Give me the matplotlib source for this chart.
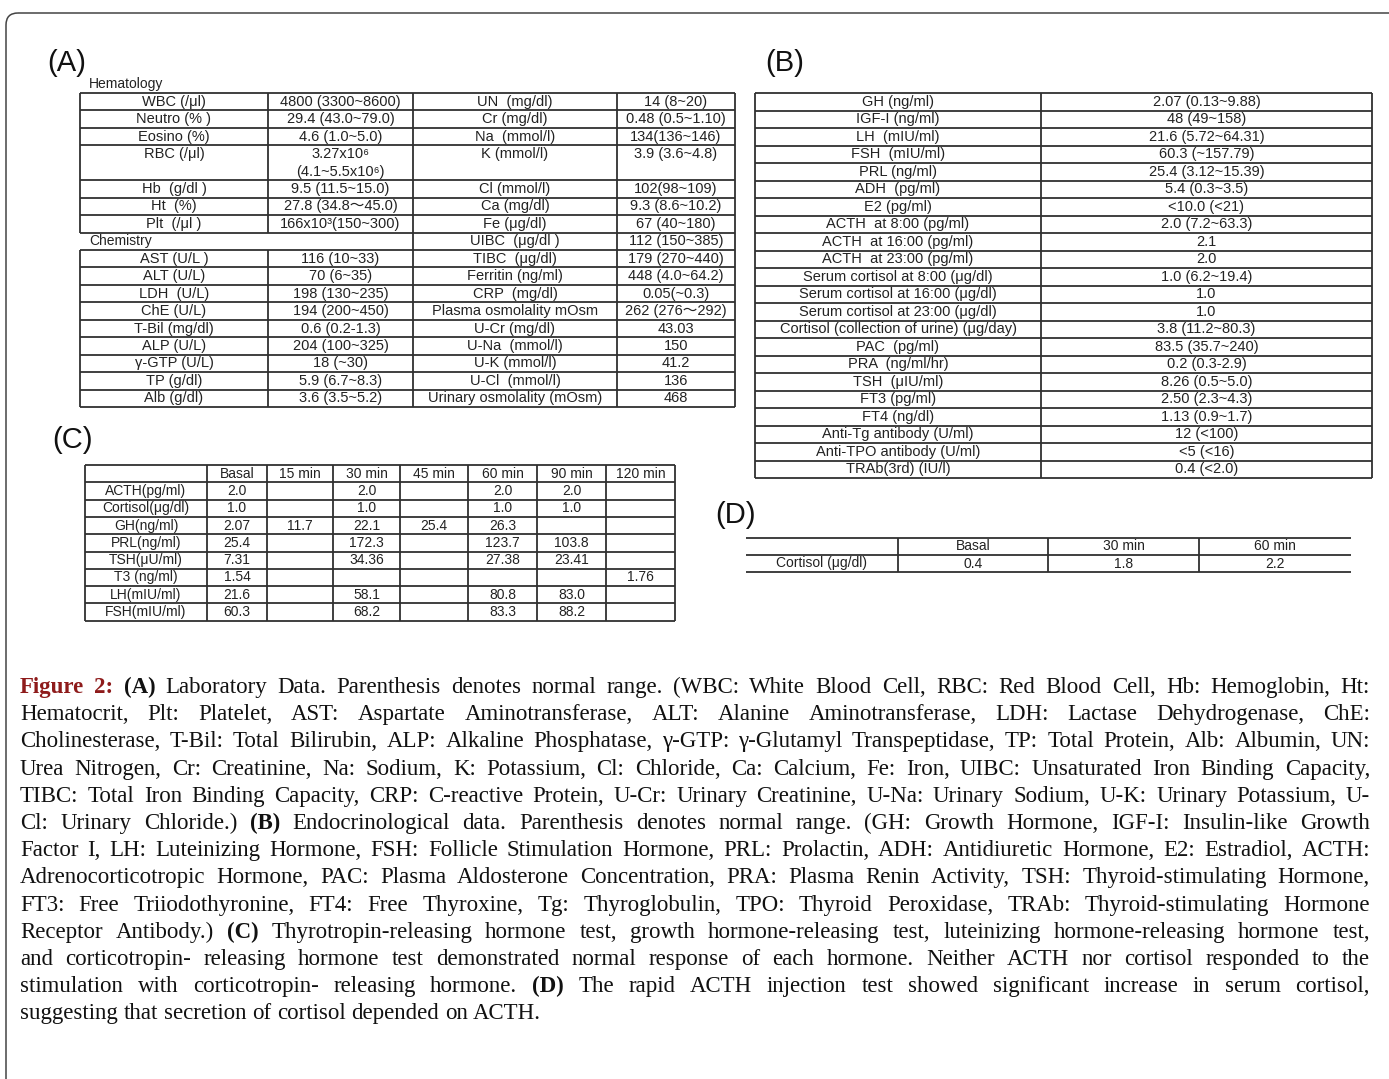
"""
Figure 2 laboratory tables (A-D) with caption
"""

import matplotlib
matplotlib.use('Agg')
import matplotlib.pyplot as plt
from matplotlib.patches import FancyBboxPatch

# (A) laboratory data
hema_labels = ['WBC (/μl)', 'Neutro (% )', 'Eosino (%)', 'RBC (/μl)', 'Hb  (g/dl )', 'Ht  (%)', 'Plt  (/μl )']
hema_values = ['4800 (3300~8600)', '29.4 (43.0~79.0)', '4.6 (1.0~5.0)', '3.27x10⁶\n(4.1~5.5x10⁶)',
               '9.5 (11.5~15.0)', '27.8 (34.8～45.0)', '166x10³(150~300)']
hema_units = [1, 1, 1, 2, 1, 1, 1]

chem_labels = ['AST (U/L )', 'ALT (U/L)', 'LDH  (U/L)', 'ChE (U/L)', 'T-Bil (mg/dl)', 'ALP (U/L)',
               'γ-GTP (U/L)', 'TP (g/dl)', 'Alb (g/dl)']
chem_values = ['116 (10~33)', '70 (6~35)', '198 (130~235)', '194 (200~450)', '0.6 (0.2-1.3)',
               '204 (100~325)', '18 (~30)', '5.9 (6.7~8.3)', '3.6 (3.5~5.2)']

misc_labels = ['UN  (mg/dl)', 'Cr (mg/dl)', 'Na  (mmol/l)', 'K (mmol/l)', 'Cl (mmol/l)', 'Ca (mg/dl)',
               'Fe (μg/dl)', 'UIBC  (μg/dl )', 'TIBC  (μg/dl)', 'Ferritin (ng/ml)', 'CRP  (mg/dl)',
               'Plasma osmolality mOsm', 'U-Cr (mg/dl)', 'U-Na  (mmol/l)', 'U-K (mmol/l)',
               'U-Cl  (mmol/l)', 'Urinary osmolality (mOsm)']
misc_values = ['14 (8~20)', '0.48 (0.5~1.10)', '134(136~146)', '3.9 (3.6~4.8)', '102(98~109)',
               '9.3 (8.6~10.2)', '67 (40~180)', '112 (150~385)', '179 (270~440)', '448 (4.0~64.2)',
               '0.05(~0.3)', '262 (276～292)', '43.03', '150', '41.2', '136', '468']
misc_units = [1, 1, 1, 2] + [1] * 13

# (B) endocrinological data
endo_labels = ['GH (ng/ml)', 'IGF-I (ng/ml)', 'LH  (mIU/ml)', 'FSH  (mIU/ml)', 'PRL (ng/ml)',
               'ADH  (pg/ml)', 'E2 (pg/ml)', 'ACTH  at 8:00 (pg/ml)', 'ACTH  at 16:00 (pg/ml)',
               'ACTH  at 23:00 (pg/ml)', 'Serum cortisol at 8:00 (μg/dl)', 'Serum cortisol at 16:00 (μg/dl)',
               'Serum cortisol at 23:00 (μg/dl)', 'Cortisol (collection of urine) (μg/day)',
               'PAC  (pg/ml)', 'PRA  (ng/ml/hr)', 'TSH  (μIU/ml)', 'FT3 (pg/ml)', 'FT4 (ng/dl)',
               'Anti-Tg antibody (U/ml)', 'Anti-TPO antibody (U/ml)', 'TRAb(3rd) (IU/l)']
endo_values = ['2.07 (0.13~9.88)', '48 (49~158)', '21.6 (5.72~64.31)', '60.3 (~157.79)',
               '25.4 (3.12~15.39)', '5.4 (0.3~3.5)', '<10.0 (<21)', '2.0 (7.2~63.3)', '2.1', '2.0',
               '1.0 (6.2~19.4)', '1.0', '1.0', '3.8 (11.2~80.3)', '83.5 (35.7~240)', '0.2 (0.3-2.9)',
               '8.26 (0.5~5.0)', '2.50 (2.3~4.3)', '1.13 (0.9~1.7)', '12 (<100)', '<5 (<16)', '0.4 (<2.0)']

# (C) stimulation tests
stim_times = ['Basal', '15 min', '30 min', '45 min', '60 min', '90 min', '120 min']
stim_items = ['ACTH(pg/ml)', 'Cortisol(μg/dl)', 'GH(ng/ml)', 'PRL(ng/ml)', 'TSH(μU/ml)',
              'T3 (ng/ml)', 'LH(mIU/ml)', 'FSH(mIU/ml)']
acth_vals = ['2.0', '', '2.0', '', '2.0', '2.0', '']
cortisol_vals = ['1.0', '', '1.0', '', '1.0', '1.0', '']
gh_vals = ['2.07', '11.7', '22.1', '25.4', '26.3', '', '']
prl_vals = ['25.4', '', '172.3', '', '123.7', '103.8', '']
tsh_vals = ['7.31', '', '34.36', '', '27.38', '23.41', '']
t3_vals = ['1.54', '', '', '', '', '', '1.76']
lh_vals = ['21.6', '', '58.1', '', '80.8', '83.0', '']
fsh_vals = ['60.3', '', '68.2', '', '83.3', '88.2', '']

# (D) rapid ACTH test
rapid_times = ['Basal', '30 min', '60 min']
rapid_cortisol = ['0.4', '1.8', '2.2']

# caption: ^word = red bold, *word* = bold
caption_lines = [
    '^Figure ^2: *(A)* Laboratory Data. Parenthesis denotes normal range. (WBC: White Blood Cell, RBC: Red Blood Cell, Hb: Hemoglobin, Ht:',
    'Hematocrit, Plt: Platelet, AST: Aspartate Aminotransferase, ALT: Alanine Aminotransferase, LDH: Lactase Dehydrogenase, ChE:',
    'Cholinesterase, T-Bil: Total Bilirubin, ALP: Alkaline Phosphatase, γ-GTP: γ-Glutamyl Transpeptidase, TP: Total Protein, Alb: Albumin, UN:',
    'Urea Nitrogen, Cr: Creatinine, Na: Sodium, K: Potassium, Cl: Chloride, Ca: Calcium, Fe: Iron, UIBC: Unsaturated Iron Binding Capacity,',
    'TIBC: Total Iron Binding Capacity, CRP: C-reactive Protein, U-Cr: Urinary Creatinine, U-Na: Urinary Sodium, U-K: Urinary Potassium, U-',
    'Cl: Urinary Chloride.) *(B)* Endocrinological data. Parenthesis denotes normal range. (GH: Growth Hormone, IGF-I: Insulin-like Growth',
    'Factor I, LH: Luteinizing Hormone, FSH: Follicle Stimulation Hormone, PRL: Prolactin, ADH: Antidiuretic Hormone, E2: Estradiol, ACTH:',
    'Adrenocorticotropic Hormone, PAC: Plasma Aldosterone Concentration, PRA: Plasma Renin Activity, TSH: Thyroid-stimulating Hormone,',
    'FT3: Free Triiodothyronine, FT4: Free Thyroxine, Tg: Thyroglobulin, TPO: Thyroid Peroxidase, TRAb: Thyroid-stimulating Hormone',
    'Receptor Antibody.) *(C)* Thyrotropin-releasing hormone test, growth hormone-releasing test, luteinizing hormone-releasing hormone test,',
    'and corticotropin- releasing hormone test demonstrated normal response of each hormone. Neither ACTH nor cortisol responded to the',
    'stimulation with corticotropin- releasing hormone. *(D)* The rapid ACTH injection test showed significant increase in serum cortisol,',
    'suggesting that secretion of cortisol depended on ACTH.',
]

SANS = ['Liberation Sans', 'Noto Sans CJK JP', 'DejaVu Sans']
SERIF = ['Liberation Serif', 'DejaVu Serif']
LINE = '#303030'
TXT = '#222222'
LW = 1.3

fig = plt.figure(figsize=(13.89, 10.79), dpi=100)
ax = fig.add_axes([0, 0, 1, 1])
ax.set_xlim(0, 1389)
ax.set_ylim(1079, 0)
ax.axis('off')


def hline(x0, x1, y):
    ax.plot([x0, x1], [y, y], color=LINE, lw=LW, solid_capstyle='butt')


def vline(x, y0, y1):
    ax.plot([x, x], [y0, y1], color=LINE, lw=LW, solid_capstyle='butt')


def cell(x0, x1, y, s, fs=10.5):
    ax.text((x0 + x1) / 2, y, s, ha='center', va='center', fontsize=fs, family=SANS, color=TXT)


def stacked_column(x0, x1, y0, rh, labels, values, units, xmid, fs=10.5):
    """Two-column block where some rows span two units; text sits at the top."""
    y = y0
    hline(x0, x1, y)
    for lab, val, u in zip(labels, values, units):
        cell(x0, xmid, y + rh / 2, lab, fs)
        for k, part in enumerate(val.split('\n')):
            cell(xmid, x1, y + rh / 2 + k * rh, part, fs)
        y += u * rh
        hline(x0, x1, y)
    return y


# outer frame
ax.add_patch(FancyBboxPatch((6, 13), 1420, 1100, boxstyle='round,pad=0,rounding_size=12',
                            fill=False, ec='#444444', lw=1.1))

# ---- (A)
ax.text(47, 63, '(A)', fontsize=21, family=SANS, va='center', ha='left', color='#111111')
ax.text(89, 84, 'Hematology', fontsize=10, family=SANS, va='center', ha='left', color=TXT)
ax.text(89, 241, 'Chemistry', fontsize=10, family=SANS, va='center', ha='left', color=TXT)
ax_x = [80, 268, 413, 617, 735]
a_top, a_rh = 93, 17.45
y_hema = stacked_column(ax_x[0], ax_x[2], a_top, a_rh, hema_labels, hema_values, hema_units, ax_x[1])
vline(ax_x[0], a_top, y_hema)
vline(ax_x[1], a_top, y_hema)
y_chem0 = y_hema + a_rh
y_end = stacked_column(ax_x[0], ax_x[2], y_chem0, a_rh, chem_labels, chem_values,
                       [1] * len(chem_labels), ax_x[1])
vline(ax_x[0], y_chem0, y_end)
vline(ax_x[1], y_chem0, y_end)
stacked_column(ax_x[2], ax_x[4], a_top, a_rh, misc_labels, misc_values, misc_units, ax_x[3])
for x in ax_x[2:]:
    vline(x, a_top, y_end)

# ---- (B)
ax.text(765, 63, '(B)', fontsize=21, family=SANS, va='center', ha='left', color='#111111')
bx = [755, 1041, 1372]
b_top, b_rh = 93, 17.5
b_end = stacked_column(bx[0], bx[2], b_top, b_rh, endo_labels, endo_values,
                       [1] * len(endo_labels), bx[1])
for x in bx:
    vline(x, b_top, b_end)

# ---- (C)
ax.text(52, 440, '(C)', fontsize=21, family=SANS, va='center', ha='left', color='#111111')
cx = [85, 207, 267, 333, 400, 468, 537, 606, 675]
c_top, c_rh = 465, 17.3
stim_rows = [acth_vals, cortisol_vals, gh_vals, prl_vals, tsh_vals, t3_vals, lh_vals, fsh_vals]
hline(cx[0], cx[-1], c_top)
for j, t in enumerate(stim_times):
    cell(cx[j + 1], cx[j + 2], c_top + c_rh / 2, t, 10)
for i, (item, vals) in enumerate(zip(stim_items, stim_rows)):
    yc = c_top + (i + 1.5) * c_rh
    cell(cx[0], cx[1], yc, item, 10)
    for j, v in enumerate(vals):
        cell(cx[j + 1], cx[j + 2], yc, v, 10)
for i in range(len(stim_items) + 1):
    hline(cx[0], cx[-1], c_top + (i + 1) * c_rh)
c_end = c_top + (len(stim_items) + 1) * c_rh
for x in cx:
    vline(x, c_top, c_end)

# ---- (D)
ax.text(715, 515, '(D)', fontsize=21, family=SANS, va='center', ha='left', color='#111111')
dx = [746, 898, 1048, 1199, 1351]
d_top, d_rh = 538, 17
for k in range(3):
    hline(dx[0], dx[-1], d_top + k * d_rh)
for x in dx[1:-1]:
    vline(x, d_top, d_top + 2 * d_rh)
for j, t in enumerate(rapid_times):
    cell(dx[j + 1], dx[j + 2], d_top + d_rh / 2, t, 10)
cell(dx[0], dx[1], d_top + 1.5 * d_rh, 'Cortisol (μg/dl)', 10)
for j, v in enumerate(rapid_cortisol):
    cell(dx[j + 1], dx[j + 2], d_top + 1.5 * d_rh, v, 10)

# ---- caption, justified word by word
renderer = fig.canvas.get_renderer()
cap_left, cap_right = 20, 1370
cap_y0, cap_dy = 693, 27.2   # baselines
cap_fs = 16.5
for n, line in enumerate(caption_lines):
    y = cap_y0 + n * cap_dy
    words = []
    for w in line.split(' '):
        if w.startswith('^'):
            words.append((w[1:], 'bold', '#8e1b1b'))
        elif w.startswith('*') and w.endswith('*'):
            words.append((w[1:-1], 'bold', '#111111'))
        else:
            words.append((w, 'normal', '#111111'))
    texts = [ax.text(0, y, w, fontsize=cap_fs, family=SERIF, weight=wt, color=c,
                     ha='left', va='baseline') for w, wt, c in words]
    widths = [t.get_window_extent(renderer).width for t in texts]
    last = n == len(caption_lines) - 1
    if last:
        gap = 0.25 * cap_fs * 100 / 72
    else:
        gap = (cap_right - cap_left - sum(widths)) / (len(widths) - 1)
    x = cap_left
    for t, w in zip(texts, widths):
        t.set_x(x)
        x += w + gap

fig.savefig('out.png', dpi=100)
